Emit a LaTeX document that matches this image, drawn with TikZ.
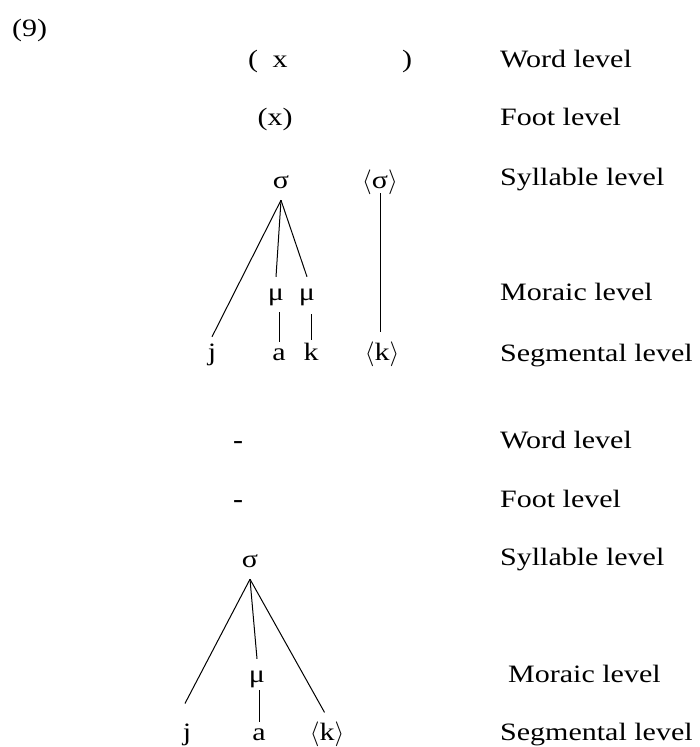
\documentclass[tikz,border=0pt]{standalone}
\usepackage{fontspec}
\setmainfont[FakeStretch=1.2]{Liberation Serif}
\newcommand{\lan}{$\langle$}
\newcommand{\ran}{$\rangle$}
\begin{document}
\begin{tikzpicture}[x=1pt,y=-1pt,
  every node/.style={font=\fontsize{25}{30}\selectfont},
  lab/.style={anchor=base west,inner sep=0pt},
  sym/.style={anchor=base,inner sep=0pt},
  tn/.style={anchor=base,inner xsep=0pt,inner ysep=6pt,text height=17pt,text depth=6pt},
  br/.style={line width=1pt}]
\useasboundingbox (0,0) rectangle (699,747);
% number
\node[lab] (num) at (12,36) {(9)};
% ---------- upper structure ----------
\node[sym] (wl) at (253,67) {(};
\node[sym] (wx) at (280,67) {x};
\node[sym] (wr) at (407,67) {)};
\node[sym] (fx) at (275,125) {(x)};
\node[tn] (s1) at (281,188) {σ};
\node[tn] (s2) at (380,188) {\lan σ\ran};
\node[tn] (m1) at (276,300) {μ};
\node[tn] (m2) at (307,300) {μ};
\node[tn] (j1) at (212,360) {j};
\node[tn] (a1) at (279,360) {a};
\node[tn] (k1) at (311,360) {k};
\node[tn] (k2) at (382,360) {\lan k\ran};
\draw[br] (s1.south) -- (j1.north);
\draw[br] (s1.south) -- (m1.north);
\draw[br] (s1.south) -- (m2.north);
\draw[br,shorten >=-5pt] (a1.north |- m1.south) -- (a1.north);
\draw[br,shorten <=2pt,shorten >=-3pt] (k1.north |- m2.south) -- (k1.north);
\draw[br,shorten <=-7pt,shorten >=5pt] (s2.south) -- (s2.south |- k2.north);
\node[lab] (L1) at (500,67) {Word level};
\node[lab] (L2) at (500,125) {Foot level};
\node[lab] (L3) at (500,185) {Syllable level};
\node[lab] (L4) at (500,300) {Moraic level};
\node[lab] (L5) at (500,361) {Segmental level};
% ---------- lower structure ----------
\node[sym] (wd) at (238,448) {\textbf{-}};
\node[sym] (fd) at (238,507) {\textbf{-}};
\node[tn] (s3) at (250,567) {σ};
\node[tn] (m3) at (257,682) {μ};
\node[tn] (j2) at (187,740) {j};
\node[tn] (a2) at (259,740) {a};
\node[tn] (k3) at (327,740) {\lan k\ran};
\draw[br,shorten >=15pt] (s3.south) -- ([xshift=-9pt]j2.north);
\draw[br] (s3.south) -- (m3.north);
\draw[br,shorten >=5pt] (s3.south) -- (k3.north);
\draw[br,shorten <=-4pt,shorten >=-5pt] (a2.north |- m3.south) -- (a2.north);
\node[lab] (L6) at (500,448) {Word level};
\node[lab] (L7) at (500,507) {Foot level};
\node[lab] (L8) at (500,565) {Syllable level};
\node[lab] (L9) at (508,682) {Moraic level};
\node[lab] (L10) at (500,740) {Segmental level};
\end{tikzpicture}
\end{document}
